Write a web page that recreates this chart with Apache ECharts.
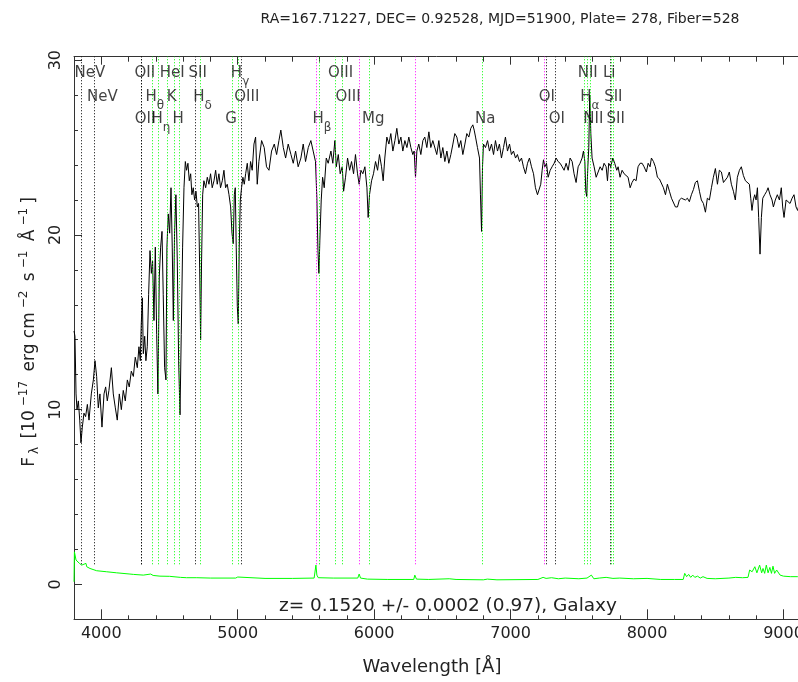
<!DOCTYPE html>
<html><head><meta charset="utf-8">
<script src="https://cdn.jsdelivr.net/npm/echarts@6/dist/echarts.min.js"></script>
<style>html,body{margin:0;padding:0;background:#fff}#c{width:798px;height:682px}</style>
</head><body><div id="c"></div>
<script>
// ---------------- data ----------------
const titleText = 'RA=167.71227, DEC= 0.92528, MJD=51900, Plate= 278, Fiber=528';
const redshiftText = 'z= 0.1520 +/- 0.0002 (0.97), Galaxy';
const xTitle = 'Wavelength [Å]';
const xTickLabels = [4000, 5000, 6000, 7000, 8000, 9000];
const yTickLabels = [0, 10, 20, 30];

const fluxWave = [3800,3807,3815,3822,3832,3842,3851,3861,3873,3885,3898,3910,3927,3942,3954,3966,3978,3990,4005,4020,4032,4044,4056,4074,4088,4103,4117,4132,4147,4161,4176,4191,4205,4220,4235,4249,4264,4276,4286,4293,4301,4308,4318,4327,4337,4347,4357,4367,4376,4386,4396,4406,4415,4425,4435,4445,4454,4464,4474,4481,4491,4501,4511,4520,4528,4537,4547,4557,4567,4577,4586,4596,4606,4616,4625,4635,4645,4655,4664,4674,4684,4694,4704,4713,4721,4728,4735,4743,4752,4765,4777,4789,4801,4813,4826,4838,4850,4862,4874,4887,4899,4911,4923,4936,4948,4958,4967,4975,4982,4989,4997,5004,5011,5019,5028,5038,5048,5058,5070,5082,5094,5106,5119,5131,5143,
5155,5175,5194,5211,5229,5248,5268,5285,5302,5316,5334,5351,5370,5390,5407,5424,5443,5463,5480,5497,5517,5536,5553,5570,5580,5588,5595,5602,5612,5622,5634,5649,5663,5683,5697,5712,5722,5737,5751,5766,5776,5790,5805,5820,5834,5849,5863,5878,5890,5903,5917,5932,5947,5956,5966,5981,5995,6010,6025,6039,6054,6066,6078,6093,6108,6122,6137,6152,6166,6181,6196,6210,6225,6240,6254,6269,6283,6293,6303,6313,6327,6342,6357,6371,6386,6401,6415,6430,
6459,6474,6489,6503,6518,6533,6547,6562,6577,6591,6606,6621,6635,6650,6665,6679,6694,6708,6723,6733,6743,6757,6772,6779,6787,6794,6801,6816,6831,6845,6860,6875,6889,6904,6918,6933,6948,6962,6977,6992,7006,7021,7036,7050,7065,7080,7094,7109,7124,7138,7153,7168,7182,7197,7209,7221,7231,7241,7251,7263,7275,7290,7304,7319,7334,7348,7363,7378,7392,7407,7422,7436,7451,7465,7480,7495,7509,7524,7534,7544,7551,7558,7566,7573,7580,7588,7597,7612,7627,7641,7656,7671,7685,7700,7710,7719,7734,7749,7763,
7778,7788,7802,7817,7832,7846,7861,7876,7890,7905,7920,7934,7949,7964,7978,7995,8008,8022,8032,8047,8061,8076,8091,8105,8120,8135,8149,8164,8179,8193,8208,8223,8237,8252,8266,8281,8296,8310,8325,8340,8354,8369,8384,8398,8413,8428,8442,8457,8472,8486,8501,8516,8530,8545,8560,8574,8589,8603,8618,8633,8647,8662,8677,8691,8706,8721,8735,8750,8760,8769,8779,8789,8799,8809,8818,8828,8838,8848,8862,8877,8887,8901,8916,8926,8940,8955,8970,8984,8994,9004,9019,9033,9048,9063,9077,9092,9104,9120];
const fluxValue = [14.5,14.2,10.9,10.0,10.5,9.4,8.1,9.0,9.8,9.6,10.3,9.4,10.9,11.7,12.8,11.9,10.1,10.9,9.0,10.9,11.3,10.5,11.1,12.4,10.9,10.1,9.4,10.9,10.0,11.1,10.5,11.7,11.3,12.2,11.9,13.0,12.4,13.6,12.8,14.9,16.4,13.2,14.2,12.8,13.6,16.6,19.1,17.8,18.5,15.1,19.3,14.3,10.9,17.6,19.3,20.2,16.6,12.4,11.7,19.3,21.2,20.1,22.7,19.3,15.1,20.1,22.3,18.5,12.8,9.7,14.3,19.3,22.7,24.2,23.7,24.1,23.1,23.5,22.3,22.7,22.0,22.5,21.6,21.8,18.1,14.0,18.5,22.3,23.1,22.7,23.3,22.9,23.5,22.7,23.1,23.7,22.9,23.5,22.7,23.1,23.7,22.7,22.9,22.3,21.6,20.1,19.5,22.3,22.7,19.3,15.9,14.9,19.3,22.0,22.7,23.3,22.9,23.5,24.1,23.1,24.2,23.7,25.2,25.6,22.9,
24.2,25.4,25.0,23.9,23.7,24.8,25.2,24.6,25.4,26.0,25.0,24.4,25.2,24.6,24.1,24.8,23.9,24.4,25.2,24.2,25.0,25.4,24.8,24.2,22.1,19.1,17.8,19.7,22.0,23.3,22.7,24.4,24.1,24.8,24.1,25.4,23.9,24.6,23.5,23.9,22.5,23.3,24.4,23.7,24.2,23.5,24.6,23.5,22.9,23.7,23.5,23.9,22.7,21.0,22.3,23.1,23.5,24.2,23.7,24.6,23.9,23.1,24.4,25.6,25.2,25.8,24.8,25.4,26.1,25.2,25.6,24.8,25.4,25.0,25.6,25.0,24.6,24.8,23.3,24.8,25.2,24.6,25.4,25.6,25.0,25.9,25.0,25.4,
24.6,25.4,24.4,25.0,24.2,24.8,24.1,24.6,25.2,25.8,25.6,25.0,25.4,24.6,25.2,25.8,25.6,26.1,26.3,26.0,25.6,25.0,24.4,22.3,20.2,23.9,25.2,25.0,25.4,24.8,25.2,24.6,25.4,24.8,25.2,24.4,25.0,25.6,24.8,25.2,24.6,24.8,24.4,24.6,24.2,24.4,23.9,23.5,24.1,24.4,23.9,23.5,22.7,22.3,22.2,22.9,23.7,24.3,23.9,24.1,23.3,23.7,23.9,24.1,24.4,24.2,24.1,23.9,23.7,24.1,23.7,24.4,24.2,23.5,23.0,23.9,24.1,24.4,24.8,24.2,22.5,22.2,23.9,25.0,28.0,25.8,24.4,23.9,23.3,23.3,23.9,23.7,24.1,23.9,23.1,24.1,23.9,24.4,24.1,
23.7,23.9,23.3,23.7,23.5,23.6,23.3,22.7,23.0,23.2,23.1,23.9,24.1,24.1,23.9,23.6,24.1,23.9,24.4,24.2,23.9,23.3,23.2,23.1,22.7,22.3,22.9,22.5,22.1,22.0,21.6,21.6,22.0,22.1,22.2,22.0,22.1,21.9,22.3,22.6,23.0,23.1,22.5,22.0,21.8,21.3,22.1,22.0,22.7,23.3,23.8,22.9,23.7,23.6,23.0,22.9,23.3,23.6,22.9,22.5,22.0,23.3,23.7,23.9,23.4,23.1,23.1,22.9,22.1,21.4,22.0,22.3,22.0,22.7,21.0,18.9,21.0,22.1,22.3,22.5,22.7,22.3,22.0,21.6,22.0,22.3,22.0,22.7,21.6,21.0,22.0,22.1,21.8,22.1,22.3,21.6,21.4,22.0];

const errWave = [3800,3803,3815,3825,3840,3856,3862,3888,3893,3917,3966,4040,4113,4210,4223,4235,4308,4362,4380,4430,4500,4580,4590,4625,4700,4800,4985,5000,5010,5200,5400,5560,5573,5580,5590,5700,5880,5890,5900,5950,6100,6290,6298,6310,6400,6550,6600,6800,6830,6900,7200,7238,7260,7300,7350,7400,7500,7560,7592,7610,7650,7700,7750,7800,7900,8000,8100,8200,8265,8276,8290,8305,8320,8335,8350,8370,8390,8410,8440,8500,8600,8650,8700,8740,8752,8770,8790,8805,8825,8840,8850,8862,8874,8887,8900,8912,8923,8935,8950,8975,9000,9050,9104,9120];
const errValue = [0.15,1.86,1.39,1.29,1.20,1.10,1.05,1.20,1.01,0.91,0.78,0.72,0.66,0.59,0.68,0.57,0.53,0.59,0.51,0.47,0.46,0.40,0.44,0.38,0.38,0.36,0.36,0.42,0.36,0.34,0.34,0.36,1.10,0.53,0.38,0.36,0.36,0.59,0.36,0.30,0.28,0.28,0.53,0.30,0.28,0.32,0.28,0.26,0.30,0.26,0.28,0.40,0.34,0.38,0.32,0.36,0.32,0.36,0.53,0.32,0.36,0.40,0.34,0.36,0.32,0.34,0.28,0.28,0.28,0.63,0.44,0.57,0.40,0.53,0.40,0.47,0.36,0.44,0.34,0.32,0.36,0.40,0.38,0.40,0.82,0.72,1.01,0.66,1.10,0.66,0.91,0.63,1.10,0.66,0.97,0.63,1.04,0.63,0.82,0.53,0.47,0.44,0.44,0.44];

// observed wavelengths of marked lines
const blackLines = [3855, 3947, 4294, 4296, 4691, 5026, 7258, 7330, 7728];
const greenLines = [4375, 4419, 4480, 4532, 4573, 4726, 4959, 5001, 5600, 5713, 5768, 5962, 6790, 7543, 7561, 7584, 7737, 7754];
const skyLines = [5577, 5890, 6300, 7245];

// line labels, one list per text tier (top, middle, bottom)
const tier1Labels = [[3855,'NeV'],[4294,'OII'],[4480,'HeI'],[4691,'SII'],[5001,'Hγ'],[5713,'OIII'],[7543,'NII'],[7728,'Li']];
const tier2Labels = [[3947,'NeV'],[4375,'Hθ'],[4532,'K'],[4726,'Hδ'],[5026,'OIII'],[5768,'OIII'],[7258,'OI'],[7561,'Hα'],[7737,'SII']];
const tier3Labels = [[4296,'OII'],[4419,'Hη'],[4573,'H'],[4959,'G'],[5600,'Hβ'],[5962,'Mg'],[6790,'Na'],[7330,'OI'],[7584,'NII'],[7754,'SII']];

// ---------------- chart ----------------
const X_MIN = 3800, X_MAX = 9250, Y_MIN = -2, Y_MAX = 30.2;
const LINE_LOW = 1.15;
const TIER_Y = [29.25, 27.91, 26.62];
const FONT = 'DejaVu Sans';
const AX = '#333';

const zip = (a, b) => a.map((v, i) => [v, b[i]]);
const vlines = ws => ws.map(w => [{coord: [w, LINE_LOW]}, {coord: [w, Y_MAX]}]);

function xAxisDef(pos, minor, len, labels) {
  const o = {
    type: 'value', min: X_MIN, max: X_MAX, position: pos, offset: 0,
    axisLine: {show: minor, onZero: false, lineStyle: {color: AX, width: 1}},
    axisTick: {show: true, inside: true, length: len, lineStyle: {color: AX, width: 1}},
    axisLabel: {show: labels, color: '#222', fontFamily: FONT, fontSize: 16, margin: 7,
      formatter: v => xTickLabels.includes(v) ? String(v) : ''},
    splitLine: {show: false}
  };
  if (minor) o.interval = 200; else { o.minInterval = 1000; o.maxInterval = 1000; }
  return o;
}
function yAxisDef(minor, len) {
  const o = {
    type: 'value', min: Y_MIN, max: Y_MAX, position: 'left', offset: 0,
    axisLine: {show: minor, onZero: false, lineStyle: {color: AX, width: 1}},
    axisTick: {show: true, inside: true, length: len, lineStyle: {color: AX, width: 1}},
    axisLabel: {show: !minor, rotate: 90, color: '#222', fontFamily: FONT, fontSize: 16, margin: 10,
      formatter: v => yTickLabels.includes(v) ? String(v) : ''},
    splitLine: {show: false}
  };
  if (minor) o.interval = 2; else { o.minInterval = 10; o.maxInterval = 10; }
  return o;
}

const labelData = [];
[tier1Labels, tier2Labels, tier3Labels].forEach((arr, t) => arr.forEach(([w, n]) => labelData.push([w, TIER_Y[t], n])));

const chart = echarts.init(document.getElementById('c'), null, {renderer: 'canvas'});
chart.setOption({
  animation: false,
  backgroundColor: '#fff',
  grid: {left: 74, top: 56.7, width: 743.6, height: 562.6, containLabel: false, outerBoundsMode: 'none'},
  xAxis: [xAxisDef('bottom', true, 4, false), xAxisDef('bottom', false, 10, true),
          xAxisDef('top', true, 5, false), xAxisDef('top', false, 8, false)],
  yAxis: [yAxisDef(true, 4), yAxisDef(false, 8)],
  graphic: [
    {type: 'text', x: 500, y: 19, style: {text: titleText, fill: '#222', font: '14px "DejaVu Sans"', align: 'center', verticalAlign: 'middle'}},
    {type: 'text', x: 448, y: 606, z: 10, style: {text: redshiftText, fill: '#222', font: '18.5px "DejaVu Sans"', align: 'center', verticalAlign: 'middle'}},
    {type: 'text', x: 432, y: 667, style: {text: xTitle, fill: '#222', font: '18px "DejaVu Sans"', align: 'center', verticalAlign: 'middle'}},
    {type: 'text', x: 30, y: 332, rotation: Math.PI / 2, style: {
      text: '{t|F}{s|λ}{t| [10}{p|−17}{t| erg cm}{p|−2}{t| s}{p|−1}{t| Å}{p|−1}{t|]}',
      align: 'center', verticalAlign: 'middle', fill: '#222',
      rich: {
        t: {fontFamily: FONT, fontSize: 17, fill: '#222', color: '#222'},
        p: {fontFamily: FONT, fontSize: 12, fill: '#222', color: '#222', padding: [0, 4, 12, 4]},
        s: {fontFamily: FONT, fontSize: 12, fill: '#222', color: '#222', padding: [10, 3, 0, 3]}
      }}}
  ],
  series: [
    {type: 'line', name: 'lines-black', data: [], markLine: {silent: true, symbol: ['none', 'none'], label: {show: false},
      lineStyle: {color: '#000', width: 1, type: [1, 2]}, data: vlines(blackLines), animation: false}, z: 1},
    {type: 'line', name: 'lines-green', data: [], markLine: {silent: true, symbol: ['none', 'none'], label: {show: false},
      lineStyle: {color: '#00ff00', width: 1, type: [1, 2]}, data: vlines(greenLines), animation: false}, z: 1},
    {type: 'line', name: 'lines-sky', data: [], markLine: {silent: true, symbol: ['none', 'none'], label: {show: false},
      lineStyle: {color: '#ff00ff', width: 1, type: [1, 2]}, data: vlines(skyLines), animation: false}, z: 1},
    {type: 'line', name: 'flux', data: zip(fluxWave, fluxValue), showSymbol: false, symbol: 'none',
      lineStyle: {color: '#000', width: 1}, z: 3, clip: true},
    {type: 'line', name: 'error', data: zip(errWave, errValue), showSymbol: false, symbol: 'none',
      lineStyle: {color: '#00ff00', width: 1}, z: 3, clip: true},
    {type: 'scatter', name: 'labels', data: labelData, symbolSize: 1, itemStyle: {color: 'rgba(0,0,0,0)'}, z: 5,
      label: {show: true, position: 'inside', align: 'left', verticalAlign: 'middle', offset: [-7, 0],
        color: '#111', fontFamily: FONT, fontSize: 15,
        formatter: p => {
          const n = p.data[2];
          if (n.length === 2 && n[0] === 'H' && /[α-ω]/.test(n[1])) return '{m|H}{s|' + n[1] + '}';
          return '{m|' + n + '}';
        },
        rich: {
          m: {fontFamily: FONT, fontSize: 15, color: '#111'},
          s: {fontFamily: FONT, fontSize: 12, color: '#111', padding: [18, 0, 0, 0]}
        }}}
  ]
});
</script></body></html>
